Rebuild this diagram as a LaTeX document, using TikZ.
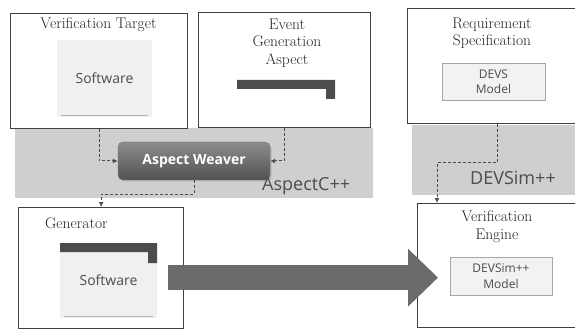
\documentclass[tikz,border=0pt]{standalone}
\usepackage{fontspec}
\setsansfont{Open Sans}
\usetikzlibrary{arrows.meta,calc,shadows}

\begin{document}
\begin{tikzpicture}[x=1pt, y=-1pt, >=Latex,
    panel/.style={draw=black!75, line width=1.3pt, fill=white, anchor=north west},
    band/.style={fill=black!19, draw=none},
    title/.style={font=\fontsize{15.5}{17.5}\selectfont, text=black!85, align=center, inner sep=0pt},
    soft/.style={fill=black!6, draw=none, font=\sffamily\fontsize{14}{16}\selectfont, text=black!70},
    model/.style={draw=black!35, fill=black!5, line width=0.8pt, font=\sffamily\fontsize{12}{15.5}\selectfont, text=black!70, align=center},
    hook/.style={fill=black!70},
    link/.style={densely dashed, line width=1pt, draw=black!70, -{Latex[length=5pt, width=5pt]}},
    tool/.style={font=\sffamily\fontsize{18}{20}\selectfont, text=black!70, inner sep=0pt, anchor=base west}]
  \useasboundingbox (0,0) rectangle (575,331);
  % tool bands
  \fill[band] (15,128) rectangle (373,198);
  \fill[band] (412,125) rectangle (575,195);
  % inputs
  \node[panel, minimum width=177pt, minimum height=115pt] (vt) at (10,13) {};
  \node[panel, minimum width=172pt, minimum height=115pt] (ega) at (198,12) {};
  \node[panel, minimum width=180pt, minimum height=115pt] (rs) at (407,8) {};
  \node[title] (vtT) at (98.5,25) {Verification Target};
  \node[title] (egaT) at (287,43) {Event\\Generation\\Aspect};
  \node[title] (rsT) at (492,33) {Requirement\\Specification};
  \node[soft, minimum width=95pt, minimum height=77pt] (vtSw) at (104.5,78.5) {Software};
  \draw[black!30, line width=0.6pt] ([xshift=4pt, yshift=2pt]vtSw.south west) -- ([xshift=-4pt, yshift=2pt]vtSw.south east);
  \fill[hook] (237,80) -| (335,99) -- (326,99) |- (237,89) -- cycle;
  \node[model, minimum width=103pt, minimum height=37pt] (devs) at (493.5,81.5) {DEVS\\Model};
  % outputs
  \node[panel, minimum width=165pt, minimum height=121pt] (gen) at (18,207) {};
  \node[panel, minimum width=160pt, minimum height=124pt] (ve) at (417,203) {};
  \node[title, anchor=west] (genT) at (45,223) {Generator};
  \node[title] (veT) at (497,226.5) {Verification\\Engine};
  \node[soft, minimum width=97pt, minimum height=75pt] (genSw) at (108.5,280.5) {\raisebox{-2pt}{Software}};
  \draw[black!30, line width=0.6pt] ([xshift=4pt, yshift=2pt]genSw.south west) -- ([xshift=-4pt, yshift=2pt]genSw.south east);
  \fill[hook] (60,243) -| (157,263) -- (148,263) |- (60,252) -- cycle;
  \node[model, minimum width=102pt, minimum height=38pt] (dsModel) at (501,276) {DEVSim++\\Model};
  % weaving
  \coordinate (bend) at (437,163);
  \draw[link] (rs.south) |- (bend) -- (bend |- ve.north);
  \node[rounded corners=5pt, top color=black!45, bottom color=black!68, draw=black!55,
        drop shadow={opacity=0.35, shadow xshift=1.5pt, shadow yshift=-1.5pt},
        minimum width=152pt, minimum height=38pt, text=white,
        font=\sffamily\bfseries\fontsize{14}{16}\selectfont] (aw) at (194,161) {Aspect Weaver};
  \draw[link] (vt.south) |- (aw.west);
  \draw[link] (ega.south) |- (aw.east);
  \draw[link] (aw.south) -- ++(0,14) -| (gen.north);
  \node[tool] (acpp) at (262,190) {AspectC++};
  \node[tool] (dsim) at (470,185) {DEVSim++};
  % generated software goes to the engine
  \draw[line width=25pt, draw=black!58, -{Triangle[length=30pt, width=56pt]}]
       ($(gen.east)+(-16,9.5)$) -- ($(ve.west)+(21,12)$);
\end{tikzpicture}
\end{document}
